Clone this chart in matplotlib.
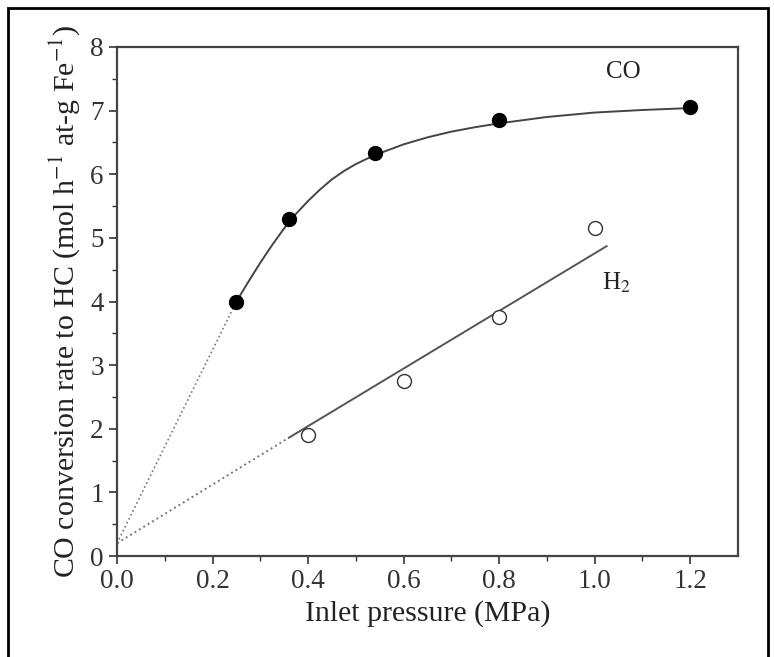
import matplotlib.pyplot as plt
from matplotlib.patches import Rectangle

plt.rcParams["font.family"] = ["Liberation Serif", "DejaVu Serif"]
plt.rcParams["mathtext.fontset"] = "stix"

# measured points
co_x = [0.25, 0.36, 0.54, 0.80, 1.20]
co_y = [4.00, 5.30, 6.33, 6.85, 7.05]
h2_x = [0.40, 0.60, 0.80, 1.00]
h2_y = [1.90, 2.75, 3.75, 5.15]

# fitted curves
co_fit_x = [0.25, 0.275, 0.30, 0.325, 0.35, 0.375, 0.40, 0.425, 0.45, 0.475, 0.50,
            0.525, 0.55, 0.60, 0.65, 0.70, 0.75, 0.80, 0.90, 1.00, 1.10, 1.20]
co_fit_y = [4.00, 4.31, 4.61, 4.89, 5.15, 5.38, 5.58, 5.76, 5.92, 6.05, 6.16,
            6.25, 6.33, 6.47, 6.58, 6.67, 6.74, 6.80, 6.90, 6.97, 7.01, 7.04]
co_ext_x = [0.0, 0.25]
co_ext_y = [0.2, 4.00]
h2_fit_x = [0.36, 1.025]
h2_fit_y = [1.86, 4.87]
h2_ext_x = [0.0, 0.36]
h2_ext_y = [0.2, 1.86]

fig = plt.figure(figsize=(7.74, 6.57), dpi=100)
ax = fig.add_axes([117 / 774, 101 / 657, 621 / 774, 509 / 657])

ax.plot(co_ext_x, co_ext_y, ls=":", color="#777777", lw=1.2)
ax.plot(h2_ext_x, h2_ext_y, ls=":", color="#777777", lw=1.4)
ax.plot(co_fit_x, co_fit_y, color="#444444", lw=1.4)
ax.plot(h2_fit_x, h2_fit_y, color="#555555", lw=1.4)
ax.plot(co_x, co_y, "o", color="black", ms=10)
ax.plot(h2_x, h2_y, "o", mfc="white", mec="#333333", mew=1.0, ms=10)

ax.text(1.06, 7.6, "CO", fontsize=18, ha="center", va="center", color="#222222")
ax.text(1.045, 4.3, "H$_2$", fontsize=18, ha="center", va="center", color="#222222")

ax.set_xlim(0, 1.3)
ax.set_ylim(0, 8)
ax.set_xticks([0.0, 0.2, 0.4, 0.6, 0.8, 1.0, 1.2])
ax.set_xticks([0.1, 0.3, 0.5, 0.7, 0.9, 1.1], minor=True)
ax.set_yticks(range(0, 9))
ax.set_yticks([0.5 + i for i in range(8)], minor=True)
ax.set_xticklabels(["0.0", "0.2", "0.4", "0.6", "0.8", "1.0", "1.2"])
ax.tick_params(which="major", direction="out", length=6, width=1.2, labelsize=19.5, colors="#333333")
ax.tick_params(which="minor", direction="out", length=3.5, width=1.0, colors="#333333")
for s in ax.spines.values():
    s.set_color("#444444")
    s.set_linewidth(1.6)

ax.set_xlabel("Inlet pressure (MPa)", fontsize=21.5, color="#222222", labelpad=4)
ax.set_ylabel("CO conversion rate to HC (mol h$^{-1}$ at-g Fe$^{-1}$)", fontsize=21.5,
              color="#222222", labelpad=6)

fig.patches.append(Rectangle((8 / 774, -0.05), 760 / 774, 1.05 - 8 / 657,
                             transform=fig.transFigure, fill=False,
                             edgecolor="black", lw=2))

fig.savefig("out.png", dpi=100)
